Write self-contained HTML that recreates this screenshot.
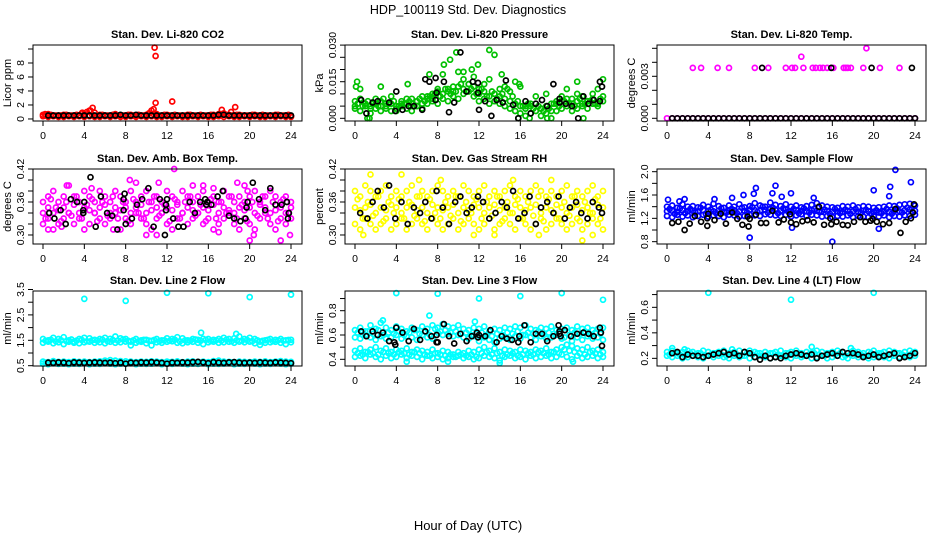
<!DOCTYPE html>
<html><head><meta charset="utf-8"><title>HDP_100119 Std. Dev. Diagnostics</title>
<style>
html,body{margin:0;padding:0;background:#fff;}
svg{display:block;font-family:"Liberation Sans",Arial,sans-serif;}
</style></head>
<body>
<svg id="chart" width="936" height="540" viewBox="0 0 936 540" xmlns="http://www.w3.org/2000/svg">
<text x="468" y="14" text-anchor="middle" font-size="12.5">HDP_100119  Std. Dev. Diagnostics</text>
<text x="468" y="530" text-anchor="middle" font-size="13">Hour of Day (UTC)</text>
</svg>
<script>
// ---- data ----
const hours49 = [0,0.5,1,1.5,2,2.5,3,3.5,4,4.5,5,5.5,6,6.5,7,7.5,8,8.5,9,9.5,10,10.5,11,11.5,12,12.5,13,13.5,14,14.5,15,15.5,16,16.5,17,17.5,18,18.5,19,19.5,20,20.5,21,21.5,22,22.5,23,23.5,24];
const hoursQ = [0.25,0.75,1.25,1.75,2.25,2.75,3.25,3.75,4.25,4.75,5.25,5.75,6.25,6.75,7.25,7.75,8.25,8.75,9.25,9.75,10.25,10.75,11.25,11.75,12.25,12.75,13.25,13.75,14.25,14.75,15.25,15.75,16.25,16.75,17.25,17.75,18.25,18.75,19.25,19.75,20.25,20.75,21.25,21.75,22.25,22.75,23.25,23.75];
const hoursBlack48 = [0.5,1,1.5,2,2.5,3,3.5,4,4.5,5,5.5,6,6.5,7,7.5,8,8.5,9,9.5,10,10.5,11,11.5,12,12.5,13,13.5,14,14.5,15,15.5,16,16.5,17,17.5,18,18.5,19,19.5,20,20.5,21,21.5,22,22.5,23,23.5,24];

// P1 CO2
const co2A = [0.6,0.7,0.5,0.5,0.6,0.5,0.5,0.5,0.7,1.2,0.9,0.6,0.5,0.5,0.7,0.5,0.5,0.6,0.5,0.5,0.6,1.2,0.7,0.5,0.6,0.5,0.5,0.5,0.6,0.5,0.5,0.5,0.5,0.6,0.7,0.8,0.6,0.5,0.6,0.5,0.5,0.6,0.5,0.5,0.5,0.6,0.5,0.5,0.4];
const co2B = [0.4,0.3,0.4,0.3,0.3,0.4,0.3,0.4,0.3,0.4,0.3,0.3,0.4,0.3,0.4,0.3,0.3,0.4,0.3,0.4,0.3,0.4,0.3,0.3,0.4,0.3,0.4,0.3,0.3,0.4,0.3,0.4,0.3,0.3,0.4,0.3,0.4,0.3,0.3,0.4,0.3,0.4,0.3,0.3,0.4,0.3,0.4,0.3,0.3];
const co2C = [0.5,0.6,0.5,0.5,0.6,0.5,0.6,0.8,1.0,0.6,0.5,0.6,0.5,0.6,0.5,0.5,0.6,0.5,0.6,0.5,0.8,0.6,0.5,0.6,0.5,0.6,0.5,0.5,0.6,0.5,0.6,0.5,0.6,0.5,0.7,0.6,0.5,0.6,0.5,0.5,0.6,0.5,0.6,0.5,0.5,0.6,0.5,0.6];
const co2OutX = [10.8,10.9,10.9,12.5,4.8,18.6,17.3,10.7,4.6,0.2,18.2,3.8];
const co2OutY = [10.2,9.0,2.3,2.5,1.6,1.7,1.3,1.4,1.2,0.7,1.0,0.9];
const co2BlackY = [0.5,0.5,0.5,0.5,0.5,0.5,0.5,0.5,0.5,0.5,0.5,0.5,0.5,0.5,0.6,0.5,0.5,0.6,0.5,0.5,0.5,0.5,0.5,0.5,0.5,0.5,0.5,0.5,0.5,0.5,0.5,0.5,0.5,0.6,0.6,0.5,0.5,0.5,0.5,0.5,0.5,0.5,0.5,0.5,0.5,0.5,0.5,0.5];

// P2 Pressure
const presA = [0.007,0.012,0.006,0.005,0.008,0.005,0.006,0.009,0.005,0.007,0.006,0.008,0.007,0.009,0.008,0.010,0.012,0.018,0.011,0.013,0.019,0.016,0.014,0.017,0.012,0.014,0.016,0.010,0.012,0.013,0.011,0.015,0.013,0.005,0.006,0.009,0.004,0.010,0.006,0.007,0.009,0.012,0.008,0.010,0.009,0.007,0.010,0.012,0.016];
const presB = [0.004,0.003,0.005,0.002,0.004,0.003,0.004,0.003,0.003,0.005,0.004,0.003,0.005,0.004,0.006,0.007,0.006,0.008,0.007,0.009,0.008,0.010,0.011,0.009,0.007,0.008,0.006,0.007,0.006,0.005,0.004,0.003,0.002,0.001,0.002,0.003,0.001,0.002,0.000,0.003,0.004,0.005,0.003,0.004,0.005,0.004,0.006,0.005,0.007];
const presC = [0.005,0.008,0.006,0.004,0.006,0.007,0.005,0.006,0.004,0.006,0.008,0.006,0.007,0.006,0.009,0.008,0.011,0.010,0.012,0.011,0.013,0.012,0.014,0.013,0.010,0.011,0.009,0.010,0.009,0.008,0.007,0.006,0.005,0.004,0.005,0.006,0.004,0.005,0.003,0.006,0.007,0.008,0.006,0.007,0.006,0.007,0.008,0.006,0.009];
const presD = [0.006,0.005,0.007,0.006,0.005,0.008,0.006,0.007,0.005,0.006,0.007,0.005,0.008,0.007,0.009,0.010,0.009,0.012,0.010,0.011,0.014,0.011,0.012,0.010,0.012,0.009,0.011,0.008,0.010,0.012,0.009,0.007,0.005,0.006,0.004,0.005,0.003,0.004,0.006,0.005,0.007,0.006,0.005,0.008,0.006,0.007,0.006,0.008];
const presOutX = [13,13.5,9.8,9.2,8.6,11.9,21.5,0.2,0.1,5.1,15.9,1.2,1.4,15.8,16.9,18.6,22.1,11.3,14.2,7.2,2.5,10.5];
const presOutY = [0.028,0.026,0.027,0.024,0.022,0.022,0.015,0.015,0.013,0.014,0.014,0.0,0.0,0.0,0.0,0.0,0.0,0.020,0.018,0.018,0.013,0.019];
const presBlackX = [0.6,1.1,1.7,2.2,3.3,3.9,4.0,4.6,5.2,5.7,6.5,6.8,7.2,7.8,7.8,7.9,8.6,9.1,9.6,10.2,10.8,11.4,11.9,11.9,12.0,12.6,13.2,13.7,14.3,14.6,15.3,15.8,16.5,17.0,17.5,18.1,18.6,19.2,19.8,19.8,20.4,21.0,21.6,22.1,22.6,23.1,23.7,23.7,23.9];
const presBlackY = [0.0075,0.002,0.0065,0.007,0.0065,0.003,0.011,0.0035,0.005,0.005,0.0035,0.016,0.015,0.0165,0.0075,0.0105,0.015,0.0025,0.0065,0.027,0.011,0.015,0.0145,0.0105,0.0035,0.007,0.001,0.0075,0.0065,0.0155,0.0055,0.0,0.007,0.002,0.006,0.0075,0.005,0.014,0.0065,0.008,0.006,0.005,0.0,0.009,0.006,0.0075,0.015,0.007,0.013];

// P3 Temp
const tempMain = [0,0,0,0,0,0,0,0,0,0,0,0,0,0,0,0,0,0,0,0,0,0,0,0,0,0,0,0,0,0,0,0,0,0,0,0,0,0,0,0,0,0,0,0,0,0,0,0,0];
const tempOutX = [2.5,3.3,4.9,6.0,8.5,9.8,11.5,12.1,12.4,13.2,14.1,14.4,14.8,15.1,15.5,16.1,17.1,17.3,17.5,17.8,19.0,20.6,22.5,13.0,19.3];
const tempOutY = [0.0036,0.0036,0.0036,0.0036,0.0036,0.0036,0.0036,0.0036,0.0036,0.0036,0.0036,0.0036,0.0036,0.0036,0.0036,0.0036,0.0036,0.0036,0.0036,0.0036,0.0036,0.0036,0.0036,0.0044,0.0050];
const tempBlackY = [0,0,0,0,0,0,0,0,0,0,0,0,0,0,0,0,0,0,0,0,0,0,0,0,0,0,0,0,0,0,0,0,0,0,0,0,0,0,0,0,0,0,0,0,0,0,0,0];
const tempBlackHiX = [9.2,15.9,19.8,23.7];
const tempBlackHiY = [0.0036,0.0036,0.0036,0.0036];

// P4 Amb box temp
const ambA = [0.36,0.37,0.38,0.36,0.37,0.39,0.37,0.36,0.38,0.37,0.36,0.38,0.37,0.36,0.38,0.37,0.36,0.38,0.36,0.37,0.38,0.36,0.37,0.36,0.38,0.37,0.36,0.38,0.37,0.36,0.37,0.38,0.36,0.37,0.36,0.38,0.37,0.36,0.37,0.36,0.37,0.38,0.36,0.37,0.38,0.37,0.36,0.37,0.36];
const ambB = [0.32,0.33,0.31,0.32,0.33,0.34,0.32,0.33,0.31,0.32,0.34,0.33,0.32,0.33,0.34,0.31,0.33,0.32,0.34,0.33,0.32,0.31,0.33,0.34,0.32,0.31,0.33,0.34,0.32,0.33,0.34,0.32,0.33,0.31,0.32,0.33,0.34,0.32,0.31,0.33,0.32,0.31,0.33,0.34,0.32,0.31,0.33,0.32,0.33];
const ambC = [0.34,0.35,0.34,0.345,0.35,0.34,0.355,0.34,0.35,0.345,0.34,0.35,0.355,0.34,0.35,0.345,0.35,0.34,0.35,0.355,0.34,0.345,0.35,0.34,0.35,0.345,0.355,0.34,0.35,0.345,0.34,0.35,0.345,0.355,0.34,0.35,0.345,0.34,0.35,0.345,0.35,0.34,0.355,0.35,0.34,0.345,0.35,0.34,0.35];
const ambD = [0.33,0.365,0.35,0.325,0.36,0.335,0.37,0.33,0.355,0.365,0.325,0.36,0.335,0.37,0.33,0.36,0.325,0.365,0.34,0.33,0.36,0.37,0.335,0.355,0.325,0.365,0.33,0.36,0.37,0.335,0.355,0.325,0.365,0.33,0.36,0.34,0.37,0.33,0.355,0.325,0.36,0.335,0.37,0.33,0.36,0.325,0.365,0.34];
const ambOutX = [12.7,8.4,9.0,11.2,18.8,19.5,10.0,11.0,20.0,20.4,23.0,23.9,15.5,6.8,17.0,19.8,14.5,1.8,2.3,4.7,16.5,0.5];
const ambOutY = [0.42,0.40,0.395,0.395,0.395,0.39,0.30,0.30,0.29,0.30,0.29,0.30,0.39,0.31,0.305,0.38,0.39,0.315,0.39,0.385,0.385,0.31];
const ambBlackX = [0.6,1.1,1.7,2.2,2.7,3.3,3.9,3.9,4.0,4.6,5.1,5.6,6.2,6.7,7.2,7.8,7.8,7.9,8.0,8.6,9.1,9.6,10.2,10.7,11.3,11.8,11.9,11.9,12.0,12.6,13.1,13.6,14.2,14.7,15.2,15.7,15.8,15.9,16.3,16.9,17.4,18.0,18.5,19.1,19.6,19.7,19.8,20.3,20.9,21.5,22.0,22.5,23.1,23.6,23.7,23.8];
const ambBlackY = [0.34,0.33,0.345,0.32,0.365,0.36,0.345,0.34,0.36,0.405,0.315,0.37,0.34,0.335,0.31,0.365,0.345,0.375,0.32,0.33,0.355,0.365,0.385,0.315,0.365,0.30,0.355,0.345,0.365,0.33,0.315,0.315,0.36,0.34,0.36,0.365,0.355,0.36,0.355,0.37,0.38,0.335,0.33,0.325,0.33,0.35,0.36,0.395,0.365,0.345,0.385,0.355,0.355,0.36,0.33,0.34];

// P5 Gas stream RH
const rhA = [0.38,0.37,0.39,0.38,0.37,0.38,0.39,0.37,0.38,0.37,0.38,0.39,0.37,0.38,0.37,0.38,0.39,0.38,0.37,0.38,0.37,0.39,0.38,0.37,0.38,0.39,0.37,0.38,0.37,0.38,0.39,0.37,0.38,0.37,0.38,0.39,0.38,0.37,0.38,0.37,0.38,0.39,0.37,0.38,0.37,0.38,0.39,0.37,0.38];
const rhB = [0.32,0.31,0.33,0.32,0.31,0.32,0.33,0.31,0.32,0.33,0.31,0.32,0.33,0.32,0.31,0.33,0.32,0.31,0.32,0.33,0.31,0.32,0.33,0.32,0.31,0.32,0.33,0.31,0.32,0.33,0.32,0.31,0.33,0.32,0.31,0.32,0.33,0.31,0.32,0.33,0.32,0.31,0.32,0.33,0.31,0.32,0.33,0.32,0.31];
const rhC = [0.35,0.345,0.35,0.355,0.34,0.35,0.345,0.355,0.35,0.34,0.35,0.355,0.345,0.35,0.34,0.355,0.35,0.345,0.35,0.355,0.34,0.35,0.345,0.355,0.35,0.34,0.35,0.355,0.345,0.35,0.34,0.355,0.35,0.345,0.35,0.355,0.34,0.35,0.345,0.355,0.35,0.34,0.35,0.355,0.345,0.35,0.34,0.355,0.35];
const rhD = [0.365,0.33,0.36,0.335,0.37,0.325,0.36,0.34,0.365,0.33,0.36,0.335,0.37,0.325,0.365,0.34,0.33,0.36,0.335,0.37,0.325,0.36,0.34,0.365,0.33,0.36,0.335,0.37,0.325,0.36,0.34,0.365,0.33,0.36,0.335,0.37,0.325,0.365,0.34,0.33,0.36,0.335,0.37,0.325,0.36,0.34,0.365,0.33];
const rhOutX = [1.5,4.5,0.8,22.0,23.0,8.3,15.3,11.5,19.0,6.2,13.5,17.8];
const rhOutY = [0.41,0.41,0.30,0.29,0.30,0.40,0.40,0.30,0.40,0.40,0.30,0.30];
const rhBlackX = [0.5,1.2,1.7,2.2,2.8,3.3,3.9,4.5,5.1,5.7,6.3,6.8,7.4,7.9,8.5,9.1,9.7,10.2,10.8,11.3,11.9,12.4,13.0,13.6,14.2,14.7,15.3,15.8,16.4,16.9,17.5,18.0,18.6,19.2,19.7,20.3,20.8,21.4,21.9,22.5,23.0,23.6,23.9];
const rhBlackY = [0.34,0.33,0.36,0.38,0.35,0.39,0.33,0.36,0.32,0.35,0.34,0.36,0.33,0.38,0.35,0.32,0.36,0.37,0.34,0.35,0.37,0.36,0.33,0.34,0.36,0.35,0.38,0.33,0.34,0.37,0.32,0.35,0.36,0.34,0.37,0.33,0.35,0.36,0.34,0.33,0.36,0.35,0.34];

// P6 Sample flow
const flowA = [1.40,1.42,1.38,1.44,1.40,1.41,1.39,1.43,1.40,1.45,1.41,1.38,1.42,1.40,1.44,1.39,1.41,1.46,1.42,1.40,1.47,1.43,1.41,1.44,1.40,1.42,1.39,1.41,1.43,1.46,1.42,1.40,1.39,1.38,1.41,1.40,1.42,1.39,1.41,1.40,1.38,1.39,1.40,1.42,1.41,1.43,1.44,1.45,1.42];
const flowB = [1.24,1.22,1.26,1.23,1.25,1.22,1.24,1.26,1.23,1.25,1.24,1.22,1.26,1.25,1.23,1.24,1.26,1.25,1.24,1.27,1.26,1.25,1.24,1.26,1.23,1.25,1.27,1.24,1.26,1.25,1.23,1.24,1.22,1.24,1.23,1.25,1.22,1.24,1.23,1.22,1.24,1.23,1.25,1.22,1.24,1.23,1.25,1.24,1.26];
const flowC = [1.32,1.33,1.31,1.34,1.32,1.33,1.32,1.34,1.33,1.32,1.33,1.31,1.33,1.34,1.32,1.33,1.35,1.34,1.33,1.35,1.36,1.34,1.33,1.35,1.32,1.34,1.33,1.32,1.34,1.33,1.32,1.33,1.31,1.32,1.31,1.33,1.32,1.31,1.33,1.32,1.31,1.30,1.32,1.31,1.33,1.32,1.34,1.35,1.33];
const flowD = [1.36,1.28,1.37,1.29,1.36,1.30,1.38,1.28,1.35,1.29,1.37,1.30,1.36,1.29,1.38,1.30,1.39,1.31,1.40,1.30,1.38,1.29,1.37,1.31,1.36,1.29,1.37,1.30,1.36,1.31,1.35,1.28,1.36,1.29,1.35,1.28,1.36,1.29,1.35,1.28,1.34,1.29,1.36,1.28,1.37,1.30,1.38,1.31];
const flowOutX = [22.1,23.6,21.6,8.6,10.5,20.0,7.4,21.5,8.0,16.0,20.5,12.1,0.1,1.7,4.6,6.3,10.2,12.0,11.1,14.2,8.4,1.2];
const flowOutY = [2.03,1.82,1.74,1.72,1.76,1.68,1.60,1.58,0.87,0.80,1.02,1.04,1.52,1.53,1.53,1.55,1.63,1.63,1.57,1.55,1.62,1.49];
const flowBlackX = [0.5,1.1,1.7,2.2,2.7,3.3,3.9,3.9,4.0,4.6,5.2,5.7,6.3,6.8,7.3,7.8,7.9,8.0,8.6,9.1,9.6,10.2,10.8,11.3,11.9,12.0,12.5,13.1,13.6,14.2,14.7,15.2,15.8,15.9,16.4,17.0,17.5,18.1,18.7,19.2,19.7,19.9,20.3,20.9,21.5,22.1,22.6,23.1,23.6,23.8,23.9];
const flowBlackY = [1.12,1.14,1.0,1.11,1.24,1.14,1.07,1.20,1.28,1.17,1.28,1.11,1.30,1.19,1.09,1.23,1.06,1.19,1.26,1.12,1.12,1.33,1.13,1.18,1.27,1.13,1.10,1.15,1.17,1.13,1.40,1.09,1.20,1.10,1.14,1.09,1.08,1.14,1.22,1.14,1.16,1.19,1.14,1.10,1.12,1.36,0.95,1.14,1.20,1.30,1.44];

// P7 Line 2 flow
const l2A = [1.55,1.50,1.60,1.55,1.62,1.50,1.45,1.55,1.60,1.58,1.52,1.55,1.60,1.56,1.65,1.58,1.55,1.45,1.55,1.50,1.52,1.48,1.55,1.50,1.58,1.55,1.62,1.58,1.50,1.55,1.52,1.56,1.55,1.52,1.55,1.60,1.55,1.58,1.65,1.55,1.60,1.55,1.45,1.50,1.55,1.52,1.55,1.50,1.52];
const l2B = [1.40,1.45,1.38,1.42,1.35,1.44,1.40,1.38,1.42,1.45,1.40,1.42,1.38,1.44,1.40,1.42,1.45,1.30,1.40,1.44,1.38,1.30,1.42,1.40,1.44,1.46,1.40,1.38,1.42,1.44,1.40,1.35,1.42,1.45,1.40,1.42,1.44,1.40,1.45,1.42,1.45,1.38,1.32,1.40,1.42,1.44,1.40,1.35,1.42];
const l2E = [1.48,1.52,1.46,1.50,1.47,1.53,1.49,1.51,1.46,1.50,1.48,1.52,1.47,1.51,1.49,1.53,1.48,1.50,1.46,1.52,1.49,1.51,1.47,1.50,1.48,1.52,1.46,1.50,1.49,1.53,1.48,1.51,1.47,1.50,1.49,1.52,1.46,1.50,1.48,1.51,1.47,1.50,1.48,1.52,1.46,1.50,1.49,1.51];
const l2C = [0.66,0.64,0.68,0.65,0.66,0.64,0.67,0.65,0.66,0.64,0.66,0.67,0.70,0.72,0.70,0.68,0.67,0.66,0.64,0.66,0.65,0.67,0.66,0.64,0.66,0.65,0.67,0.64,0.66,0.67,0.65,0.66,0.64,0.68,0.70,0.66,0.65,0.64,0.66,0.65,0.64,0.66,0.65,0.67,0.64,0.66,0.68,0.66,0.65];
const l2D = [0.58,0.56,0.59,0.57,0.58,0.56,0.58,0.57,0.59,0.56,0.58,0.57,0.59,0.58,0.56,0.58,0.57,0.59,0.56,0.58,0.57,0.58,0.59,0.56,0.58,0.57,0.59,0.58,0.56,0.58,0.57,0.59,0.56,0.58,0.57,0.58,0.59,0.56,0.58,0.57,0.59,0.58,0.56,0.58,0.57,0.59,0.58,0.56,0.58];
const l2F = [0.62,0.60,0.63,0.61,0.62,0.60,0.63,0.61,0.62,0.60,0.63,0.64,0.66,0.64,0.62,0.61,0.63,0.60,0.62,0.61,0.63,0.60,0.62,0.61,0.63,0.60,0.62,0.61,0.63,0.60,0.62,0.61,0.63,0.64,0.62,0.61,0.63,0.60,0.62,0.61,0.63,0.60,0.62,0.61,0.63,0.64,0.62,0.61];
const l2OutX = [4,8,12,16,20,24,15.3,18.7];
const l2OutY = [3.13,3.05,3.37,3.35,3.2,3.3,1.8,1.75];
const l2BlackY = [0.62,0.61,0.63,0.62,0.60,0.63,0.62,0.61,0.62,0.63,0.62,0.61,0.62,0.60,0.62,0.58,0.62,0.61,0.63,0.62,0.64,0.62,0.61,0.58,0.62,0.61,0.63,0.62,0.64,0.65,0.63,0.60,0.64,0.62,0.61,0.63,0.64,0.62,0.61,0.62,0.61,0.63,0.62,0.61,0.63,0.62,0.61,0.60];

// P8 Line 3 flow
const l3A = [0.64,0.66,0.63,0.68,0.65,0.70,0.66,0.64,0.67,0.65,0.63,0.66,0.64,0.67,0.65,0.68,0.66,0.69,0.67,0.66,0.68,0.65,0.64,0.66,0.65,0.67,0.63,0.65,0.64,0.66,0.65,0.67,0.66,0.68,0.65,0.64,0.66,0.65,0.67,0.64,0.65,0.66,0.64,0.67,0.65,0.66,0.64,0.65,0.66];
const l3B = [0.58,0.57,0.60,0.58,0.56,0.59,0.57,0.58,0.60,0.57,0.59,0.58,0.56,0.60,0.58,0.57,0.62,0.60,0.61,0.59,0.60,0.58,0.57,0.59,0.55,0.58,0.56,0.54,0.57,0.58,0.56,0.59,0.57,0.60,0.58,0.56,0.59,0.57,0.58,0.60,0.57,0.52,0.55,0.58,0.56,0.59,0.57,0.58,0.56];
const l3E = [0.62,0.60,0.63,0.61,0.64,0.60,0.62,0.61,0.63,0.60,0.62,0.64,0.61,0.63,0.60,0.65,0.63,0.64,0.62,0.63,0.61,0.62,0.60,0.61,0.62,0.60,0.59,0.61,0.60,0.62,0.61,0.63,0.60,0.62,0.61,0.63,0.60,0.62,0.61,0.63,0.58,0.60,0.62,0.61,0.63,0.60,0.62,0.61];
const l3C = [0.47,0.49,0.46,0.48,0.50,0.47,0.49,0.46,0.48,0.47,0.49,0.46,0.48,0.47,0.46,0.48,0.45,0.47,0.46,0.44,0.46,0.45,0.47,0.46,0.48,0.50,0.47,0.49,0.46,0.48,0.47,0.46,0.48,0.47,0.46,0.48,0.47,0.49,0.46,0.48,0.50,0.52,0.51,0.49,0.48,0.50,0.47,0.48,0.46];
const l3D = [0.42,0.43,0.41,0.44,0.42,0.40,0.43,0.41,0.42,0.44,0.41,0.43,0.42,0.40,0.43,0.41,0.42,0.40,0.41,0.42,0.43,0.41,0.42,0.40,0.41,0.43,0.42,0.41,0.39,0.42,0.43,0.41,0.42,0.40,0.43,0.41,0.42,0.43,0.41,0.42,0.44,0.42,0.40,0.43,0.41,0.42,0.43,0.41,0.42];
const l3F = [0.45,0.44,0.46,0.45,0.44,0.46,0.45,0.44,0.46,0.45,0.44,0.46,0.45,0.44,0.43,0.45,0.44,0.43,0.44,0.42,0.44,0.43,0.44,0.42,0.45,0.46,0.44,0.45,0.43,0.44,0.45,0.43,0.44,0.45,0.44,0.46,0.45,0.44,0.46,0.45,0.48,0.47,0.46,0.45,0.44,0.46,0.45,0.44];
const l3OutX = [4,8,12,16,20,24,7.2,2.7,11.6,14.0,5.0,21.1,9.0];
const l3OutY = [0.945,0.94,0.90,0.92,0.945,0.89,0.76,0.72,0.71,0.37,0.38,0.38,0.38];
const l3BlackX = [0.6,1.1,1.7,2.2,2.7,3.3,3.8,3.9,4.0,4.6,5.2,5.7,6.3,6.8,7.4,7.9,7.9,8.0,8.6,9.1,9.6,10.2,10.8,11.3,11.8,11.9,12.0,12.6,13.1,13.7,14.2,14.7,15.2,15.8,15.9,16.4,17.0,17.5,18.1,18.6,19.2,19.7,19.8,19.8,19.9,20.3,20.9,21.5,22.1,22.6,23.1,23.7,23.8,23.9];
const l3BlackY = [0.63,0.59,0.63,0.60,0.62,0.55,0.54,0.52,0.66,0.62,0.55,0.65,0.56,0.63,0.59,0.54,0.60,0.54,0.69,0.59,0.53,0.61,0.55,0.59,0.62,0.58,0.60,0.59,0.64,0.54,0.59,0.57,0.56,0.54,0.59,0.68,0.54,0.61,0.61,0.55,0.59,0.68,0.63,0.61,0.59,0.64,0.59,0.61,0.62,0.61,0.59,0.66,0.62,0.51];

// P9 Line 4 (LT) flow
const l4A = [0.25,0.26,0.24,0.25,0.26,0.25,0.24,0.26,0.25,0.24,0.25,0.26,0.24,0.25,0.26,0.25,0.26,0.25,0.24,0.25,0.24,0.25,0.26,0.24,0.25,0.26,0.24,0.25,0.24,0.26,0.25,0.24,0.25,0.26,0.25,0.24,0.26,0.25,0.24,0.25,0.26,0.24,0.25,0.26,0.25,0.24,0.25,0.26,0.25];
const l4B = [0.22,0.21,0.22,0.20,0.21,0.22,0.21,0.20,0.22,0.21,0.22,0.21,0.20,0.22,0.21,0.22,0.20,0.21,0.22,0.21,0.20,0.21,0.22,0.21,0.20,0.22,0.21,0.22,0.20,0.21,0.22,0.20,0.21,0.22,0.21,0.20,0.22,0.21,0.22,0.20,0.21,0.22,0.21,0.20,0.22,0.21,0.22,0.21,0.22];
const l4C = [0.23,0.24,0.23,0.22,0.24,0.23,0.24,0.22,0.23,0.24,0.23,0.22,0.24,0.23,0.22,0.24,0.23,0.24,0.22,0.23,0.24,0.23,0.22,0.24,0.23,0.24,0.22,0.23,0.24,0.23,0.22,0.24,0.23,0.24,0.22,0.23,0.24,0.23,0.22,0.24,0.23,0.24,0.22,0.23,0.24,0.23,0.22,0.24];
const l4OutX = [4,12,20,14,17.8,0.5,1.7,6.3];
const l4OutY = [0.714,0.66,0.714,0.29,0.28,0.28,0.27,0.27];
const l4BlackY = [0.24,0.25,0.21,0.23,0.22,0.22,0.21,0.22,0.23,0.24,0.25,0.23,0.24,0.22,0.25,0.24,0.21,0.19,0.22,0.20,0.21,0.20,0.22,0.23,0.24,0.23,0.22,0.23,0.20,0.22,0.23,0.24,0.22,0.25,0.24,0.24,0.23,0.21,0.22,0.23,0.21,0.22,0.23,0.24,0.20,0.21,0.22,0.24];

// ---- layout / rendering ----
const svg = document.getElementById('chart');
const NS = 'http://www.w3.org/2000/svg';
const colX = [0, 312, 624];
const rowTop = [45, 169, 291];
const boxH = [76, 75, 75];

function mk(tag, attrs, parent) {
  const e = document.createElementNS(NS, tag);
  for (const k in attrs) e.setAttribute(k, attrs[k]);
  parent.appendChild(e);
  return e;
}

const panels = [
  {name:'co2', title:'Stan. Dev. Li-820 CO2', ylab:'Licor ppm', c:0, r:0, lo:-0.29, hi:10.57, ticks:[0,2,4,6,8,10], labels:['0','2','4','6','8',''],
   series:[{x:hours49,y:co2A,col:'#ff0000'},{x:hours49,y:co2B,col:'#ff0000'},{x:hoursQ,y:co2C,col:'#ff0000'},{x:co2OutX,y:co2OutY,col:'#ff0000'},{x:hoursBlack48,y:co2BlackY,col:'#000'}]},
  {name:'pressure', title:'Stan. Dev. Li-820 Pressure', ylab:'kPa', c:1, r:0, lo:-0.0011, hi:0.03004, ticks:[0,0.005,0.01,0.015,0.02,0.025,0.03], labels:['0.000','','','0.015','','','0.030'],
   series:[{x:hours49,y:presA,col:'#00c000'},{x:hours49,y:presB,col:'#00c000'},{x:hours49,y:presC,col:'#00c000'},{x:hoursQ,y:presD,col:'#00c000'},{x:presOutX,y:presOutY,col:'#00c000'},{x:presBlackX,y:presBlackY,col:'#000'}]},
  {name:'temp', title:'Stan. Dev. Li-820 Temp.', ylab:'degrees C', c:2, r:0, lo:-0.000193, hi:0.005236, ticks:[0,0.001,0.002,0.003,0.004,0.005], labels:['0.000','','','0.003','',''],
   series:[{x:hours49,y:tempMain,col:'#ff00ff'},{x:tempOutX,y:tempOutY,col:'#ff00ff'},{x:hoursBlack48,y:tempBlackY,col:'#000'},{x:tempBlackHiX,y:tempBlackHiY,col:'#000'}]},
  {name:'amb-box-temp', title:'Stan. Dev. Amb. Box Temp.', ylab:'degrees C', c:0, r:1, lo:0.2836, hi:0.42, ticks:[0.30,0.32,0.34,0.36,0.38,0.40,0.42], labels:['0.30','','','0.36','','','0.42'],
   series:[{x:hours49,y:ambA,col:'#ff00ff'},{x:hours49,y:ambB,col:'#ff00ff'},{x:hours49,y:ambC,col:'#ff00ff'},{x:hoursQ,y:ambD,col:'#ff00ff'},{x:ambOutX,y:ambOutY,col:'#ff00ff'},{x:ambBlackX,y:ambBlackY,col:'#000'}]},
  {name:'gas-stream-rh', title:'Stan. Dev. Gas Stream RH', ylab:'percent', c:1, r:1, lo:0.2836, hi:0.42, ticks:[0.30,0.32,0.34,0.36,0.38,0.40,0.42], labels:['0.30','','','0.36','','','0.42'],
   series:[{x:hours49,y:rhA,col:'#ffff00'},{x:hours49,y:rhB,col:'#ffff00'},{x:hours49,y:rhC,col:'#ffff00'},{x:hoursQ,y:rhD,col:'#ffff00'},{x:rhOutX,y:rhOutY,col:'#ffff00'},{x:rhBlackX,y:rhBlackY,col:'#000'}]},
  {name:'sample-flow', title:'Stan. Dev. Sample Flow', ylab:'ml/min', c:2, r:1, lo:0.76, hi:2.046, ticks:[0.8,1.0,1.2,1.4,1.6,1.8,2.0], labels:['0.8','','1.2','','1.6','','2.0'],
   series:[{x:hours49,y:flowA,col:'#0000ff'},{x:hours49,y:flowB,col:'#0000ff'},{x:hours49,y:flowC,col:'#0000ff'},{x:hoursQ,y:flowD,col:'#0000ff'},{x:flowOutX,y:flowOutY,col:'#0000ff'},{x:flowBlackX,y:flowBlackY,col:'#000'}]},
  {name:'line2-flow', title:'Stan. Dev. Line 2 Flow', ylab:'ml/min', c:0, r:2, lo:0.488, hi:3.441, ticks:[0.5,1,1.5,2,2.5,3,3.5], labels:['0.5','','1.5','','2.5','','3.5'],
   series:[{x:hours49,y:l2A,col:'#00ffff'},{x:hours49,y:l2B,col:'#00ffff'},{x:hoursQ,y:l2E,col:'#00ffff'},{x:hours49,y:l2C,col:'#00ffff'},{x:hours49,y:l2D,col:'#00ffff'},{x:hoursQ,y:l2F,col:'#00ffff'},{x:l2OutX,y:l2OutY,col:'#00ffff'},{x:hoursBlack48,y:l2BlackY,col:'#000'}]},
  {name:'line3-flow', title:'Stan. Dev. Line 3 Flow', ylab:'ml/min', c:1, r:2, lo:0.345, hi:0.962, ticks:[0.4,0.5,0.6,0.7,0.8,0.9], labels:['0.4','','0.6','','0.8',''],
   series:[{x:hours49,y:l3A,col:'#00ffff'},{x:hours49,y:l3B,col:'#00ffff'},{x:hoursQ,y:l3E,col:'#00ffff'},{x:hours49,y:l3C,col:'#00ffff'},{x:hours49,y:l3D,col:'#00ffff'},{x:hoursQ,y:l3F,col:'#00ffff'},{x:l3OutX,y:l3OutY,col:'#00ffff'},{x:l3BlackX,y:l3BlackY,col:'#000'}]},
  {name:'line4-flow', title:'Stan. Dev. Line 4 (LT) Flow', ylab:'ml/min', c:2, r:2, lo:0.14, hi:0.728, ticks:[0.2,0.3,0.4,0.5,0.6,0.7], labels:['0.2','','0.4','','0.6',''],
   series:[{x:hours49,y:l4A,col:'#00ffff'},{x:hours49,y:l4B,col:'#00ffff'},{x:hoursQ,y:l4C,col:'#00ffff'},{x:l4OutX,y:l4OutY,col:'#00ffff'},{x:hoursBlack48,y:l4BlackY,col:'#000'}]}
];
const xTicks = [0,4,8,12,16,20,24];

panels.forEach(p => {
  const ox = colX[p.c];
  const bx0 = ox + 33, bx1 = ox + 302;
  const by0 = rowTop[p.r], by1 = rowTop[p.r] + boxH[p.r];
  const xs = h => ox + 43 + (h / 24) * 248;
  const ys = v => by1 - (v - p.lo) / (p.hi - p.lo) * (by1 - by0);

  const g = mk('g', {}, svg);
  
  

  const t = mk('text', {x: (bx0 + bx1) / 2, y: by0 - 7, 'text-anchor': 'middle', 'font-size': '11', 'font-weight': 'bold'}, g);
  
  
  t.textContent = p.title;

  const yl = mk('text', {x: ox + 11, y: (by0 + by1) / 2, 'text-anchor': 'middle', 'font-size': '11', transform: 'rotate(-90 ' + (ox + 11) + ' ' + ((by0 + by1) / 2) + ')'}, g);
  
  
  yl.textContent = p.ylab;

  const pts = mk('g', {fill: 'none', 'stroke-width': '1.7'}, g);
  
  
  p.series.forEach(s => {
    for (let i = 0; i < s.y.length; i++) {
      const c = mk('circle', {cx: xs(s.x[i]).toFixed(1), cy: ys(s.y[i]).toFixed(1), r: '2.5', stroke: s.col}, pts);
      
      
    }
  });

  const box = mk('rect', {x: bx0, y: by0, width: bx1 - bx0, height: by1 - by0, fill: 'none', stroke: '#000', 'stroke-width': '1'}, g);
  
  

  xTicks.forEach(h => {
    const x = xs(h);
    const tk = mk('line', {x1: x, x2: x, y1: by1, y2: by1 + 5, stroke: '#000'}, g);
    
    
    const lb = mk('text', {x: x, y: by1 + 18, 'text-anchor': 'middle', 'font-size': '10.5'}, g);
    
    
    lb.textContent = String(h);
  });
  p.ticks.forEach((v, i) => {
    const y = ys(v);
    const tk = mk('line', {x1: bx0 - 5, x2: bx0, y1: y, y2: y, stroke: '#000'}, g);
    
    
    if (p.labels[i]) {
      const lx = ox + 24;
      const lb = mk('text', {x: lx, y: y, 'text-anchor': 'middle', 'font-size': '10.5', transform: 'rotate(-90 ' + lx + ' ' + y + ')'}, g);
      
      
      lb.textContent = p.labels[i];
    }
  });
});
</script>
</body></html>
